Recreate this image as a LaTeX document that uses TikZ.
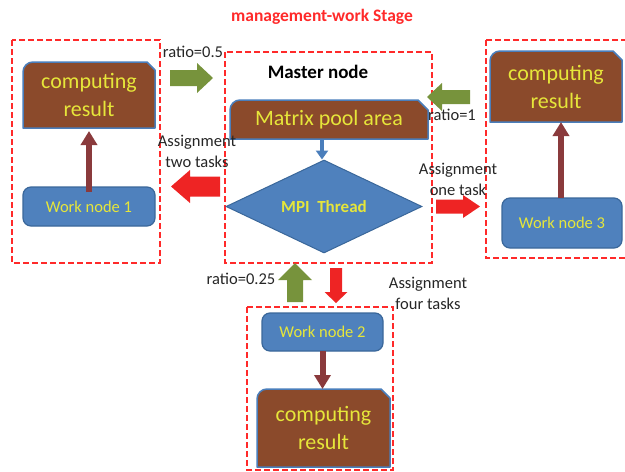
\documentclass[tikz,border=0pt]{standalone}
\usepackage{fontspec}
\setmainfont{Carlito}
\usetikzlibrary{shapes.geometric,arrows.meta,backgrounds}
\definecolor{brn}{HTML}{8B4A2B}
\definecolor{bedge}{HTML}{4A7EBB}
\definecolor{wblue}{HTML}{4F81BD}
\definecolor{wedge}{HTML}{3A679A}
\definecolor{ytxt}{HTML}{E6E63A}
\definecolor{dred}{HTML}{8A3A3C}
\definecolor{dashred}{HTML}{FF2A2A}
\definecolor{agreen}{HTML}{77933C}
\definecolor{ared}{HTML}{EE2424}
\newcommand\snipbox[2]{%
  \begin{pgfonlayer}{background}
  \filldraw[fill=brn, draw=bedge, line width=1.5pt, line join=round]
    (#1.south west) -- ([yshift=-10pt]#1.north west)
    arc[start angle=180, end angle=90, radius=10pt]
    -- ([xshift=-#2]#1.north east) -- ([yshift=-#2]#1.north east)
    -- (#1.south east) -- cycle;
  \end{pgfonlayer}}
\newcommand\barr[7]{%
  \fill[#1, shift={#2}, rotate=#3] (0,-#5) -- ({#4-#7},-#5) -- ({#4-#7},-#6)
    -- (#4,0) -- ({#4-#7},#6) -- ({#4-#7},#5) -- (0,#5) -- cycle;}
\begin{document}
\begin{tikzpicture}[x=1pt, y=-1pt,
  res/.style={draw=none, fill=none, outer sep=0pt, inner sep=0pt, align=center,
    text=ytxt, font=\fontsize{22}{28}\selectfont},
  work/.style={rectangle, rounded corners=8pt, fill=wblue, draw=wedge, line width=1.2pt,
    outer sep=0pt, inner sep=0pt, text=ytxt, font=\fontsize{16.5}{20}\selectfont},
  dbox/.style={draw=dashred, line width=2pt, dash pattern=on 6pt off 3pt},
  lbl/.style={inner sep=0pt, align=center, text=black!85, font=\fontsize{16.5}{21}\selectfont},
  darr/.style={draw=dred, line width=6pt, -{Triangle[width=16pt,length=14pt]}},
  barr/.style={draw=bedge, line width=4pt, -{Triangle[width=12pt,length=9pt]}}
]
\useasboundingbox (0,0) rectangle (625,472);

% title
\node[inner sep=0pt, text=dashred, font=\bfseries\fontsize{17.5}{21}\selectfont] (title) at (322,17) {management-work Stage};

% dashed boxes
\draw[dbox] (12,40) rectangle (160,263);
\draw[dbox] (225,52) rectangle (432,263);
\draw[dbox] (486,40) rectangle (640,258);
\draw[dbox] (247,307) rectangle (393,470);

% master
\node[inner sep=0pt, font=\bfseries\fontsize{19}{23}\selectfont] (master) at (318,72) {Master node};
\node[res, minimum width=198pt, minimum height=39pt] (pool) at (329,119.5) {Matrix pool area};
\snipbox{pool}{10pt}
\node[diamond, fill=wblue, draw=wedge, line width=1pt, minimum width=196pt, minimum height=93pt,
  inner sep=0pt, aspect=2.1, text=ytxt, font=\bfseries\fontsize{17}{20}\selectfont] (mpi) at (324,206.5) {MPI\ \ Thread};
\draw[barr] ([xshift=-7pt]pool.south) -- ([xshift=-2pt]mpi.north);

% left worker
\node[res, minimum width=132pt, minimum height=66pt] (r1) at (89,95) {computing\\result};
\snipbox{r1}{8pt}
\node[work, minimum width=132pt, minimum height=39pt] (w1) at (89,206.5) {Work node 1};
\draw[darr, shorten >=3pt] ([yshift=-5pt]w1.north) -- (w1.north |- r1.south);

% right worker
\node[res, minimum width=132pt, minimum height=71pt] (r3) at (556,86.5) {computing\\result};
\snipbox{r3}{9pt}
\node[work, minimum width=120pt, minimum height=50pt] (w3) at (562,223) {Work node 3};
\draw[darr] ([xshift=-1pt]w3.north) -- ([xshift=-1pt]w3.north |- r3.south);

% bottom worker
\node[work, minimum width=121pt, minimum height=38pt] (w2) at (322.5,332) {Work node 2};
\node[res, minimum width=133pt, minimum height=78pt] (r2) at (323.5,428) {computing\\result};
\snipbox{r2}{9pt}
\draw[darr] (w2.south) -- (w2.south |- r2.north);

% block arrows
\barr{agreen}{(170,78)}{0}{43}{8}{15}{16}
\barr{agreen}{(470,97)}{180}{43}{7}{14}{15}
\barr{ared}{(220,186.5)}{180}{49}{10}{16.5}{19}
\barr{ared}{(436,206.5)}{0}{44}{7}{11.5}{17}
\barr{agreen}{(295,302)}{90}{39}{8}{17}{17}
\barr{ared}{(336,268)}{-90}{35}{6}{11.5}{11}

% labels
\node[lbl] (l05) at (193,52) {ratio=0.5};
\node[lbl] (l1) at (452,115) {ratio=1};
\node[lbl] (a2) at (197,151) {Assignment\\two tasks};
\node[lbl] (a1) at (458,179) {Assignment\\one task};
\node[lbl] (l025) at (241,279) {ratio=0.25};
\node[lbl] (a4) at (428,293) {Assignment\\four tasks};
\end{tikzpicture}
\end{document}
